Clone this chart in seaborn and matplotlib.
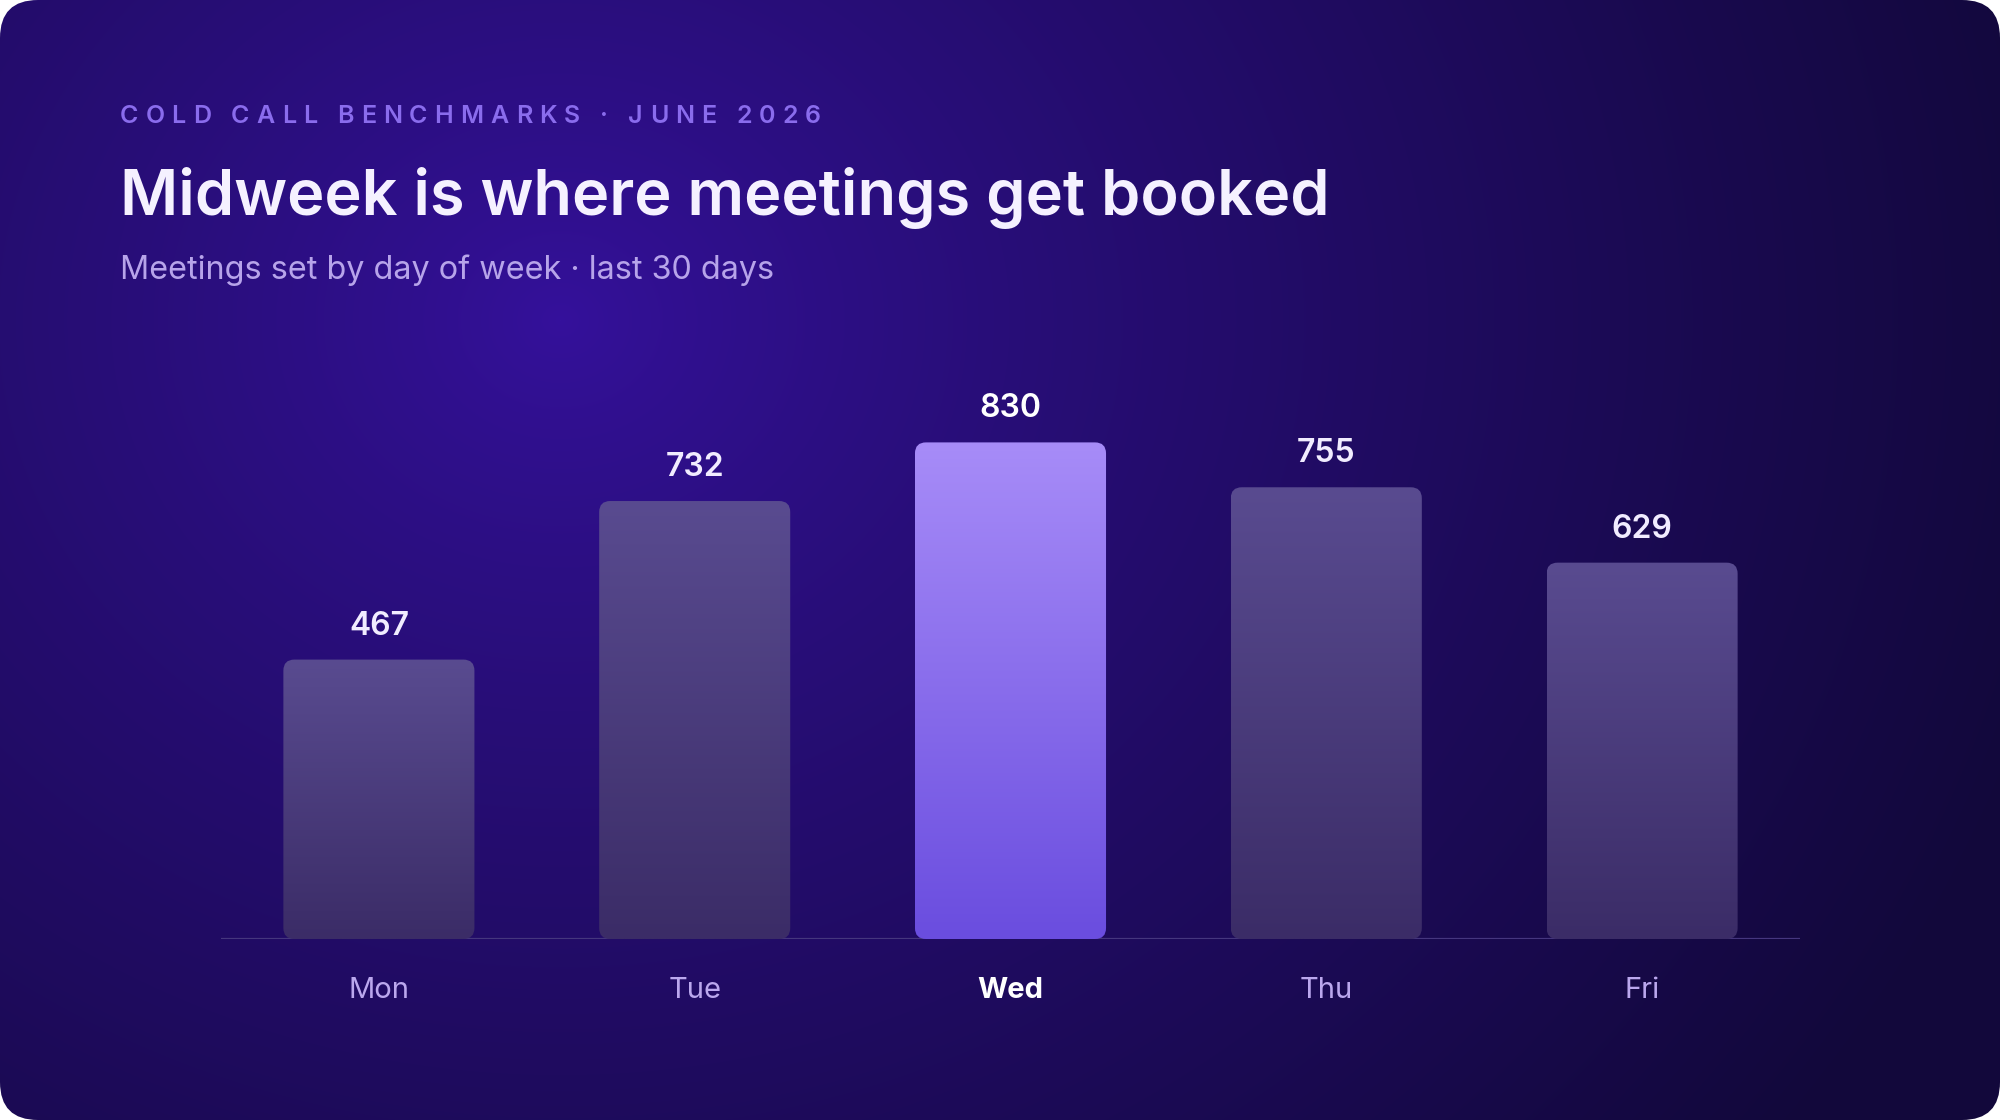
import numpy as np
import pandas as pd
import matplotlib
matplotlib.use("Agg")
import matplotlib.pyplot as plt
import seaborn as sns
from matplotlib.patches import FancyBboxPatch
from matplotlib.colors import to_rgb
from matplotlib.font_manager import FontProperties

# data
days = ["Mon", "Tue", "Wed", "Thu", "Fri"]
meetings = [467, 732, 830, 755, 629]
highlight = "Wed"

kicker = "COLD CALL BENCHMARKS · JUNE 2026"
title = "Midweek is where meetings get booked"
subtitle = "Meetings set by day of week · last 30 days"

W, H, DPI = 2000, 1120, 100
FONT = ["Inter", "DejaVu Sans"]

sns.set_theme(style="white")
plt.rcParams["font.family"] = FONT

fig = plt.figure(figsize=(W / DPI, H / DPI), dpi=DPI, facecolor="white")

# background card: radial glow, rounded corners
bg = fig.add_axes([0, 0, 1, 1], zorder=0)
bg.axis("off")
yy, xx = np.mgrid[0:H, 0:W]
d = np.clip(np.hypot(xx - 560, (yy - 320) * 1.15) / 1550, 0, 1)
c0, c1 = np.array(to_rgb("#35119c")), np.array(to_rgb("#12083b"))
img = c0 + (c1 - c0) * (d ** 0.8)[..., None]
im = bg.imshow(img, extent=(0, W, H, 0), aspect="auto", interpolation="bilinear")
card = FancyBboxPatch((0, 0), W, H, boxstyle="round,pad=0,rounding_size=38",
                      transform=bg.transData, facecolor="none", edgecolor="none")
bg.add_patch(card)
im.set_clip_path(card)
bg.set_xlim(0, W); bg.set_ylim(H, 0)

# chart area (pixel layout)
ax_l, ax_r, ax_base, ax_top = 221, 1800, 939, 300
ax = fig.add_axes([ax_l / W, 1 - ax_base / H, (ax_r - ax_l) / W, (ax_base - ax_top) / H], zorder=1)
ax.patch.set_alpha(0)

df = pd.DataFrame({"day": days, "meetings": meetings})
sns.barplot(data=df, x="day", y="meetings", ax=ax, width=0.605, color="#584a8f",
            errorbar=None, saturation=1)
ylim = (0, 1068)
ax.set_ylim(*ylim)
ax.set_xlim(-0.5, len(days) - 0.5)

ppx = (ax_r - ax_l) / len(days)
ppy = (ax_base - ax_top) / ylim[1]
r_px = 11

dim_cols = ("#594b90", "#3b2c67")
hi_cols = ("#a78cf8", "#6a4ddf")

for bar, day, val in zip(list(ax.patches), days, meetings):
    x, w, h = bar.get_x(), bar.get_width(), bar.get_height()
    bar.set_visible(False)
    top, bot = hi_cols if day == highlight else dim_cols
    box = FancyBboxPatch((x, 0), w, h, boxstyle=f"round,pad=0,rounding_size={r_px / ppx}",
                         mutation_aspect=ppx / ppy, facecolor="none", edgecolor="none",
                         transform=ax.transData)
    ax.add_patch(box)
    t = np.linspace(0, 1, 256)[:, None, None]
    grad = np.array(to_rgb(top)) * (1 - t) + np.array(to_rgb(bot)) * t
    gi = ax.imshow(grad, extent=(x, x + w, 0, h), aspect="auto", zorder=1,
                   interpolation="bilinear")
    gi.set_clip_path(box)
    ax.annotate(f"{val}", (x + w / 2, h), xytext=(0, 18), textcoords="offset points",
                ha="center", va="baseline", fontsize=23, fontweight="semibold",
                color="white" if day == highlight else "#f1ecff")

ax.set_ylim(*ylim)
ax.set_xlim(-0.5, len(days) - 0.5)
ax.axhline(0, color="#45367e", lw=1.6, zorder=0.5)

sns.despine(ax=ax, left=True, bottom=True)
ax.set_yticks([])
ax.set_xlabel(""); ax.set_ylabel("")
ax.tick_params(axis="x", length=0, pad=27)
for lab in ax.get_xticklabels():
    lab.set_fontsize(21)
    if lab.get_text() == highlight:
        lab.set_color("white"); lab.set_fontweight("bold")
    else:
        lab.set_color("#bba8ee")

# header text, pixel positions from top-left
def fy(px):
    return 1 - px / H

# kicker with letter spacing
renderer = fig.canvas.get_renderer()
kp = FontProperties(family=FONT, size=18, weight="semibold")
track = 7.0
ref_w = renderer.get_text_width_height_descent("x", kp, ismath=False)[0]
for i, ch in enumerate(kicker):
    pre = renderer.get_text_width_height_descent(kicker[:i] + "x", kp, ismath=False)[0] - ref_w
    fig.text((120 + pre + i * track) / W, fy(123), ch, fontproperties=kp,
             color="#8a6ced", va="baseline", ha="left")

fig.text(120 / W, fy(215), title, fontsize=45.4, fontweight="semibold",
         color="#f5f1ff", va="baseline", ha="left")
fig.text(120 / W, fy(279), subtitle, fontsize=23.3, color="#b7a4ea",
         va="baseline", ha="left")

fig.savefig("out.png", dpi=DPI, facecolor="white")
